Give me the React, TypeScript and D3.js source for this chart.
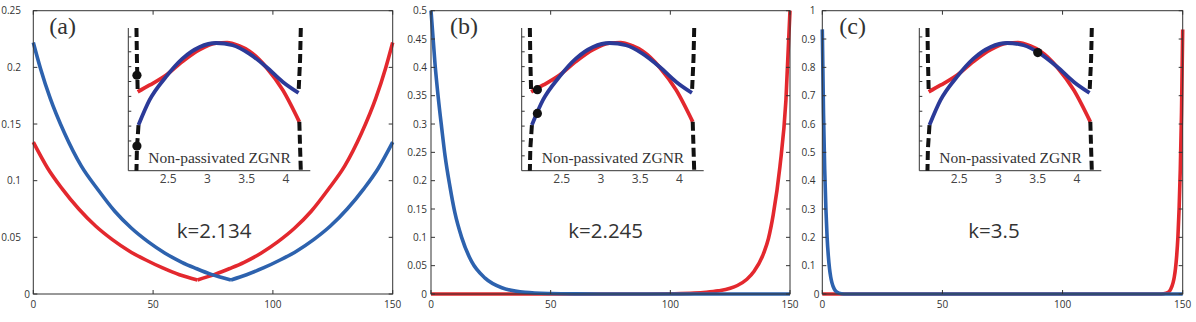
import React from "react";
import * as d3 from "d3";

type Pt = [number, number];

const W = 1196;
const H = 322;
const TOP = 10.7;
const BOTTOM = 294;

const X_TICKS = [0, 50, 100, 150];
const Y_TICKS_A = [0, 0.05, 0.1, 0.15, 0.2, 0.25];
const Y_TICKS_B = [0, 0.05, 0.1, 0.15, 0.2, 0.25, 0.3, 0.35, 0.4, 0.45, 0.5];
const Y_TICKS_C = [0, 0.1, 0.2, 0.3, 0.4, 0.5, 0.6, 0.7, 0.8, 0.9, 1];

// panel (a), k=2.134
const RED_A: Pt[] = [
  [0, 0.134], [6, 0.111], [12, 0.093], [19, 0.075], [26, 0.06], [33, 0.048],
  [40, 0.038], [47, 0.03], [54, 0.023], [61, 0.017], [68.5, 0.0124],
  [76, 0.0175], [82, 0.0225], [88, 0.028], [95, 0.036], [102, 0.046],
  [109, 0.058], [116, 0.073], [123, 0.092], [130, 0.113], [137, 0.142],
  [143, 0.173], [147, 0.199], [150, 0.222],
];
const BLUE_A: Pt[] = [
  [0, 0.222], [3, 0.199], [7, 0.173], [13, 0.142], [20, 0.113], [27, 0.092],
  [34, 0.073], [41, 0.058], [48, 0.046], [55, 0.036], [62, 0.028],
  [68, 0.0225], [74, 0.0175], [82.5, 0.0124], [89, 0.017], [96, 0.023],
  [103, 0.03], [110, 0.038], [117, 0.048], [124, 0.06], [131, 0.075],
  [138, 0.093], [144, 0.111], [150, 0.134],
];

// panel (b), k=2.245
const RED_B: Pt[] = [
  [0, 0], [90, 0], [100, 0.0004], [110, 0.0015], [115, 0.003], [120, 0.0055],
  [125, 0.01], [128, 0.015], [132, 0.026], [135, 0.04], [139, 0.072],
  [141, 0.098], [143, 0.14], [145.8, 0.225], [148.3, 0.342], [150, 0.5],
];
const BLUE_B: Pt[] = [
  [0, 0.5], [1.7, 0.405], [3, 0.348], [4.5, 0.292], [5.9, 0.243], [7.9, 0.19],
  [10, 0.143], [12.8, 0.1], [17, 0.057], [22.6, 0.028], [29.6, 0.011],
  [39.3, 0.003], [50, 0.0008], [60, 0.0002], [80, 0], [150, 0],
];

// panel (c), k=3.5
const RED_C: Pt[] = [
  [0, 0], [140, 0], [142, 0.001], [144, 0.006], [145, 0.017], [146, 0.04],
  [146.5, 0.06], [147, 0.09], [147.5, 0.135], [148, 0.2], [148.5, 0.3],
  [149, 0.44], [149.5, 0.64], [150, 0.934],
];
const BLUE_C: Pt[] = [
  [0, 0.934], [0.5, 0.64], [1, 0.44], [1.5, 0.3], [2, 0.2], [2.5, 0.135],
  [3, 0.09], [3.5, 0.06], [4, 0.04], [5, 0.017], [6, 0.007], [8, 0.001],
  [10, 0], [150, 0],
];

// inset band structure (k, E in tick units)
const INSET_K_TICKS = [2.5, 3, 3.5, 4];
const INSET_E_TICKS = [1, 2, 3, 4, 5, 6, 7, 8, 9];
const BAND_RED: Pt[] = [
  [2.11, 5.3], [2.26, 5.75], [2.47, 6.42], [2.68, 7.35], [2.9, 8.15],
  [3.11, 8.58], [3.25, 8.62], [3.4, 8.4], [3.53, 8.05], [3.75, 6.95],
  [3.96, 5.42], [4.17, 3.29],
];
const BAND_BLUE: Pt[] = [
  [2.12, 3.07], [2.26, 4.74], [2.47, 6.31], [2.68, 7.54], [2.9, 8.32],
  [3.11, 8.59], [3.32, 8.44], [3.53, 7.88], [3.75, 6.98], [3.96, 5.97],
  [4.16, 5.23],
];
const EDGE_BANDS: Pt[][] = [
  [[2.094, 9.6], [2.1, 7.5], [2.11, 5.3]],
  [[2.12, 3.07], [2.1, 1.5], [2.094, 0]],
  [[4.189, 9.6], [4.18, 7.5], [4.16, 5.23]],
  [[4.17, 3.29], [4.18, 1.5], [4.189, 0]],
];
const DOTS_A: Pt[] = [[2.1, 6.42], [2.1, 1.66]];
const DOTS_B: Pt[] = [[2.19, 5.45], [2.19, 3.85]];
const DOTS_C: Pt[] = [[3.5, 7.95]];

const RED = "#e3282e";
const BLUE = "#2d62ae";
const NAVY = "#2b3a98";
const INK = "#333";
const SANS = "'Open Sans', 'Liberation Sans', sans-serif";
const SERIF = "'Liberation Serif', 'DejaVu Serif', serif";

const fmt = (v: number) => String(+v.toFixed(2));

function Inset({ left, dots }: { left: number; dots: Pt[] }) {
  const kx = d3.scaleLinear().domain([1.99, 4.31]).range([left, left + 182]);
  const ey = d3.scaleLinear().domain([0, 9.6]).range([170.7, 28]);
  const line = d3.line<Pt>().x(d => kx(d[0])).y(d => ey(d[1])).curve(d3.curveMonotoneX);
  const edge = d3.line<Pt>().x(d => kx(d[0])).y(d => ey(d[1]));
  return (
    <g>
      <path d={`M${left},${ey(9.6)}V${ey(0)}H${left + 182}`} fill="none" stroke={INK} strokeWidth={1} />
      {INSET_E_TICKS.map(t => (
        <line key={t} x1={left} x2={left + 3} y1={ey(t)} y2={ey(t)} stroke={INK} strokeWidth={1} />
      ))}
      {INSET_K_TICKS.map(t => (
        <text key={t} x={kx(t)} y={182.5} textAnchor="middle" fontFamily={SANS} fontSize={12} fill="#444">
          {fmt(t)}
        </text>
      ))}
      <text x={left + 20} y={163.3} fontFamily={SERIF} fontSize={15.5} fill={INK}>
        Non-passivated ZGNR
      </text>
      <path d={line(BAND_RED) || ""} fill="none" stroke={RED} strokeWidth={3.8} />
      <path d={line(BAND_BLUE) || ""} fill="none" stroke={NAVY} strokeWidth={3.8} />
      {EDGE_BANDS.map((b, i) => (
        <path key={i} d={edge(b) || ""} fill="none" stroke="#111" strokeWidth={4} strokeDasharray="9,4" />
      ))}
      {dots.map((d, i) => (
        <circle key={i} cx={kx(d[0])} cy={ey(d[1])} r={4.6} fill="#111" />
      ))}
    </g>
  );
}

interface PanelProps {
  left: number;
  right: number;
  yMax: number;
  yTicks: number[];
  yLabelRight: number;
  zeroRight: number;
  red: Pt[];
  blue: Pt[];
  kink?: boolean;
  label: string;
  labelDx: number;
  kText: string;
  kDx: number;
  insetLeft: number;
  dots: Pt[];
}

function Panel(p: PanelProps) {
  const x = d3.scaleLinear().domain([0, 150]).range([p.left, p.right]);
  const y = d3.scaleLinear().domain([0, p.yMax]).range([BOTTOM, TOP]);
  const line = d3.line<Pt>().x(d => x(d[0])).y(d => y(d[1])).curve(d3.curveMonotoneX);
  // split at the minimum so the kink stays sharp
  const paths = (pts: Pt[]) => {
    if (!p.kink) return [line(pts) || ""];
    const i = d3.minIndex(pts, d => d[1]);
    return [line(pts.slice(0, i + 1)) || "", line(pts.slice(i)) || ""];
  };
  return (
    <g>
      {paths(p.red).map((d, i) => (
        <path key={"r" + i} d={d} fill="none" stroke={RED} strokeWidth={3.6} />
      ))}
      {paths(p.blue).map((d, i) => (
        <path key={"b" + i} d={d} fill="none" stroke={BLUE} strokeWidth={3.6} />
      ))}
      <rect x={p.left} y={TOP} width={p.right - p.left} height={BOTTOM - TOP} fill="none" stroke={INK} strokeWidth={1} />
      {X_TICKS.map(t => (
        <g key={t}>
          <line x1={x(t)} x2={x(t)} y1={BOTTOM} y2={BOTTOM - 4} stroke={INK} />
          <line x1={x(t)} x2={x(t)} y1={TOP} y2={TOP + 4} stroke={INK} />
          <text x={x(t)} y={307.5} textAnchor="middle" fontFamily={SANS} fontSize={10} fill={INK}>
            {t}
          </text>
        </g>
      ))}
      {p.yTicks.map(t => (
        <g key={t}>
          <line x1={p.left} x2={p.left + 4} y1={y(t)} y2={y(t)} stroke={INK} />
          <line x1={p.right} x2={p.right - 4} y1={y(t)} y2={y(t)} stroke={INK} />
          <text
            x={t === 0 ? p.zeroRight : p.yLabelRight}
            y={y(t)}
            dy="0.35em"
            textAnchor="end"
            fontFamily={SANS}
            fontSize={10}
            fill={INK}
          >
            {fmt(t)}
          </text>
        </g>
      ))}
      <text x={p.left + p.labelDx} y={34.2} fontFamily={SERIF} fontSize={24} fill={INK}>
        {p.label}
      </text>
      <text x={p.left + p.kDx} y={238.3} fontFamily={SANS} fontSize={20.5} fill={INK}>
        {p.kText}
      </text>
      <Inset left={p.insetLeft} dots={p.dots} />
    </g>
  );
}

export default function App() {
  return (
    <svg
      width={W}
      height={H}
      style={{ position: "absolute", left: 0, top: 0, background: "#fff" }}
    >
      <Panel
        left={33.3} right={392.7} yMax={0.25} yTicks={Y_TICKS_A}
        yLabelRight={21} zeroRight={30} red={RED_A} blue={BLUE_A} kink
        label="(a)" labelDx={16} kText="k=2.134" kDx={143.4}
        insetLeft={128.3} dots={DOTS_A}
      />
      <Panel
        left={431} right={790} yMax={0.5} yTicks={Y_TICKS_B}
        yLabelRight={427} zeroRight={427} red={RED_B} blue={BLUE_B}
        label="(b)" labelDx={19} kText="k=2.245" kDx={137.3}
        insetLeft={521.7} dots={DOTS_B}
      />
      <Panel
        left={822.3} right={1182.7} yMax={1} yTicks={Y_TICKS_C}
        yLabelRight={815.5} zeroRight={819.5} red={RED_C} blue={BLUE_C}
        label="(c)" labelDx={17} kText="k=3.5" kDx={146}
        insetLeft={919.3} dots={DOTS_C}
      />
    </svg>
  );
}
